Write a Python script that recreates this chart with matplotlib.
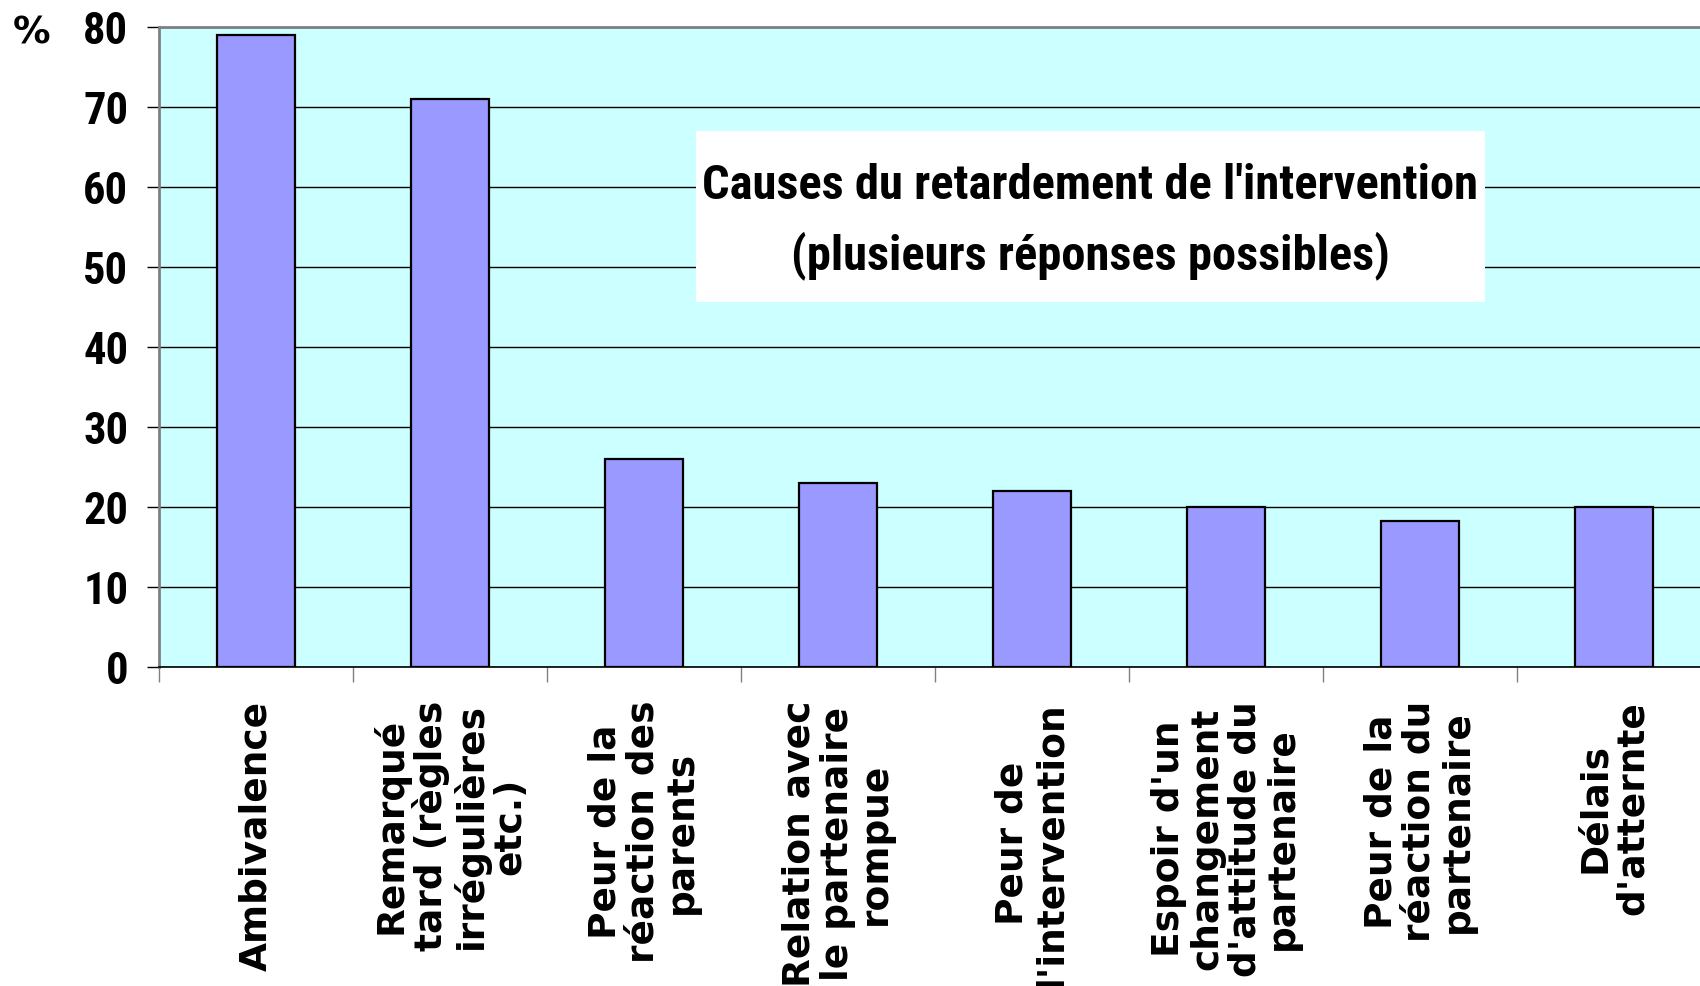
import matplotlib
matplotlib.use("Agg")
import matplotlib.pyplot as plt
from matplotlib import font_manager as fm
from matplotlib.patches import Rectangle

# data
causes = [
    "Ambivalence",
    "Remarqué\ntard (règles\nirrégulières\netc.)",
    "Peur de la\nréaction des\nparents",
    "Relation avec\nle partenaire\nrompue",
    "Peur de\nl'intervention",
    "Espoir d'un\nchangement\nd'attitude du\npartenaire",
    "Peur de la\nréaction du\npartenaire",
    "Délais\nd'atternte",
]
percent = [79, 71, 26, 23, 22, 20, 18.2, 20]
title_lines = ["Causes du retardement de l'intervention", "(plusieurs réponses possibles)"]


# pick a condensed family that really has a bold face
def weight_of(f):
    w = f.weight
    if isinstance(w, str):
        w = fm.weight_dict.get(w, 400)
    return w


bold_names = {f.name for f in fm.fontManager.ttflist if weight_of(f) >= 700}
candidates = ["Roboto Condensed", "Archivo Narrow", "Barlow Semi Condensed",
              "Asap Condensed", "Barlow Condensed", "Cabin Condensed", "Liberation Sans"]
narrow = next((c for c in candidates if c in bold_names), "Liberation Sans")

fig = plt.figure(figsize=(17, 9.86), dpi=100)
ax = fig.add_axes([159 / 1700, 1 - 667 / 986, 1 - 159 / 1700, 640 / 986])
ax.set_facecolor("#CCFFFF")

x = list(range(len(causes)))
ax.bar(x, percent, width=0.4, color="#9999FF", edgecolor="black", linewidth=1.6, zorder=3)

ax.set_xlim(-0.5, -0.5 + 1541 / 194)
ax.set_ylim(0, 80)
ax.set_yticks(range(0, 81, 10))
ax.grid(axis="y", color="black", linewidth=1.0)
ax.set_axisbelow(True)

for side in ["top", "left"]:
    ax.spines[side].set_color("#808080")
    ax.spines[side].set_linewidth(2)
ax.spines["right"].set_visible(False)
ax.spines["bottom"].set_color("black")
ax.spines["bottom"].set_linewidth(1.2)

ax.tick_params(axis="y", length=9, width=1, color="black", pad=13)
for lab in ax.get_yticklabels():
    lab.set_fontfamily([narrow, "DejaVu Sans"])
    lab.set_fontweight("bold")
    lab.set_fontsize(32)

# category boundaries carry the tick marks, labels sit in between
ax.set_xticks([i - 0.5 for i in range(len(causes))])
ax.set_xticklabels([])
ax.tick_params(axis="x", length=11, width=1, color="#808080")

for i, lab in enumerate(causes):
    ax.text(i, -0.053, lab, transform=ax.get_xaxis_transform(), rotation=90,
            ha="center", va="top", multialignment="center", linespacing=1.08,
            fontsize=27, fontweight="bold", family="DejaVu Sans")

# title box inside the plot
ax.add_patch(Rectangle((2.268, 45.6), 6.335 - 2.268, 67 - 45.6,
                       facecolor="white", edgecolor="none", zorder=4))
ax.text(4.30, 55.7, "\n".join(title_lines), ha="center", va="center",
        multialignment="center", linespacing=1.6, fontsize=35,
        fontweight="bold", family=[narrow, "DejaVu Sans"], zorder=5)

fig.text(32 / 1700, 1 - 33 / 986, "%", ha="center", va="center",
         fontsize=27, fontweight="bold", family="DejaVu Sans")

fig.savefig("out.png", dpi=100)
